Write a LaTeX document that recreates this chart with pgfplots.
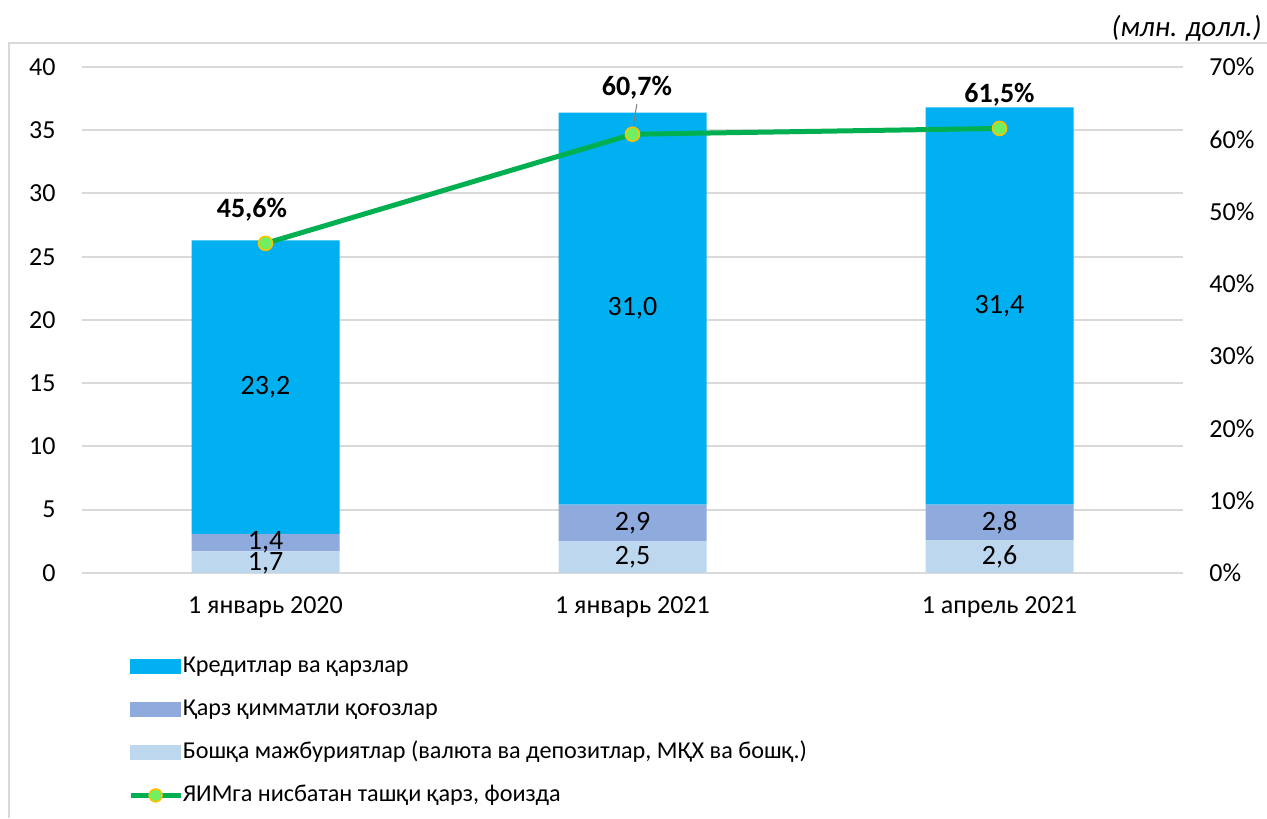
\documentclass[border=0pt]{standalone}
\usepackage{fontspec}
\setmainfont{Carlito}
\usepackage{pgfplots}
\pgfplotsset{compat=1.18}
\definecolor{kred}{HTML}{00B0F0}
\definecolor{qarz}{HTML}{8FAADC}
\definecolor{bosh}{HTML}{BDD7EE}
\definecolor{lgreen}{HTML}{00B050}
\definecolor{mkfill}{HTML}{70F060}
\definecolor{mkedge}{HTML}{FFC000}
\definecolor{gridgray}{HTML}{D9D9D9}
\begin{document}
\begin{tikzpicture}
\useasboundingbox (0,0) rectangle (633.5pt,409pt);
\draw[color=gridgray, line width=1pt] (4.5pt,0) -- (4.5pt,387.5pt) -- (633.5pt,387.5pt);
\begin{axis}[
  at={(41pt,122.5pt)}, anchor=south west,
  scale only axis, width=550.5pt, height=253pt,
  xmin=-0.5, xmax=2.5, ymin=0, ymax=40,
  ybar stacked, bar width=74pt,
  xtick={0,1,2}, xticklabels={1 январь 2020, 1 январь 2021, 1 апрель 2021},
  ytick={0,5,...,40},
  axis line style={draw=none},
  major tick length=0pt,
  ymajorgrids, grid style={color=gridgray, line width=1pt},
  tick label style={font=\fontsize{13}{15}\selectfont},
  /pgf/number format/assume math mode=true,
  yticklabel style={anchor=east, inner sep=0pt, xshift=-13pt},
  xticklabel style={anchor=center, inner sep=0pt, yshift=-17pt},
  legend style={at={(0.0418,-0.160)}, anchor=north west, draw=none, fill=none, inner sep=0pt,
    row sep=9.5pt, font=\fontsize{12.1}{14}\selectfont,
    nodes={inner sep=0pt, text height=9pt, text depth=3pt, xshift=2.5pt}},
  legend cell align=left,
]
\addlegendimage{legend image code/.code={\fill[kred] (0pt,-3.5pt) rectangle (25pt,3.5pt);}}
\addlegendentry{Кредитлар ва қарзлар}
\addlegendimage{legend image code/.code={\fill[qarz] (0pt,-3.5pt) rectangle (25pt,3.5pt);}}
\addlegendentry{Қарз қимматли қоғозлар}
\addlegendimage{legend image code/.code={\fill[bosh] (0pt,-3.5pt) rectangle (25pt,3.5pt);}}
\addlegendentry{Бошқа мажбуриятлар (валюта ва депозитлар, МҚХ ва бошқ.)}
\addlegendimage{legend image code/.code={\draw[lgreen, line width=2.2pt] (0pt,0pt) -- (25pt,0pt); \draw[fill=mkfill, draw=mkedge, line width=0.8pt] (12.5pt,0pt) circle (3.2pt);}}
\addlegendentry{ЯИМга нисбатан ташқи қарз, фоизда}
\addplot[fill=bosh, draw=none] coordinates {(0,1.7) (1,2.5) (2,2.6)};
\addplot[fill=qarz, draw=none] coordinates {(0,1.4) (1,2.9) (2,2.8)};
\addplot[fill=kred, draw=none] coordinates {(0,23.2) (1,31.0) (2,31.4)};
\end{axis}
% segment value labels, at the middle of each segment
\begin{axis}[
  at={(41pt,122.5pt)}, anchor=south west,
  scale only axis, width=550.5pt, height=253pt,
  xmin=-0.5, xmax=2.5, ymin=0, ymax=40,
  hide axis,
]
\addplot[only marks, mark=none, point meta=explicit symbolic,
  nodes near coords, nodes near coords align=center,
  every node near coord/.append style={anchor=center, inner sep=0pt, font=\fontsize{14}{16}\selectfont}]
  coordinates {
   (0,0.8) [1,7] (0,2.45) [1,4] (0,14.7) [23,2]
   (1,1.25) [2,5] (1,3.95) [2,9] (1,20.9) [31,0]
   (2,1.3) [2,6] (2,4.0) [2,8] (2,21.1) [31,4]
  };
\end{axis}
\begin{axis}[
  at={(41pt,122.5pt)}, anchor=south west,
  scale only axis, width=550.5pt, height=253pt,
  xmin=-0.5, xmax=2.5, ymin=0, ymax=70,
  axis y line*=right, axis x line=none,
  axis line style={draw=none},
  major tick length=0pt,
  ytick={0,10,...,70},
  yticklabel={\pgfmathprintnumber{\tick}\%},
  tick label style={font=\fontsize{13}{15}\selectfont},
  /pgf/number format/assume math mode=true,
  yticklabel style={anchor=west, inner sep=0pt, xshift=13pt},
]
\addplot[lgreen, line width=2.5pt, mark=*, mark size=3.5pt, mark options={fill=mkfill, draw=mkedge, line width=0.8pt}] coordinates {(0,45.6) (1,60.7) (2,61.5)};
\draw[gray, line width=0.5pt] (axis cs:1.012,64.9) -- (axis cs:1.0,61.3);
\node[font=\bfseries\fontsize{14}{16}\selectfont] at (axis cs:-0.037,50.2) {45,6\%};
\node[font=\bfseries\fontsize{14}{16}\selectfont] at (axis cs:1.012,67.1) {60,7\%};
\node[font=\bfseries\fontsize{14}{16}\selectfont] at (axis cs:2.0,66.1) {61,5\%};
\end{axis}
\node[anchor=east, inner sep=0pt, font=\itshape\fontsize{14.5}{16}\selectfont] at (631pt,395pt) {(млн. долл.)};
\end{tikzpicture}
\end{document}
